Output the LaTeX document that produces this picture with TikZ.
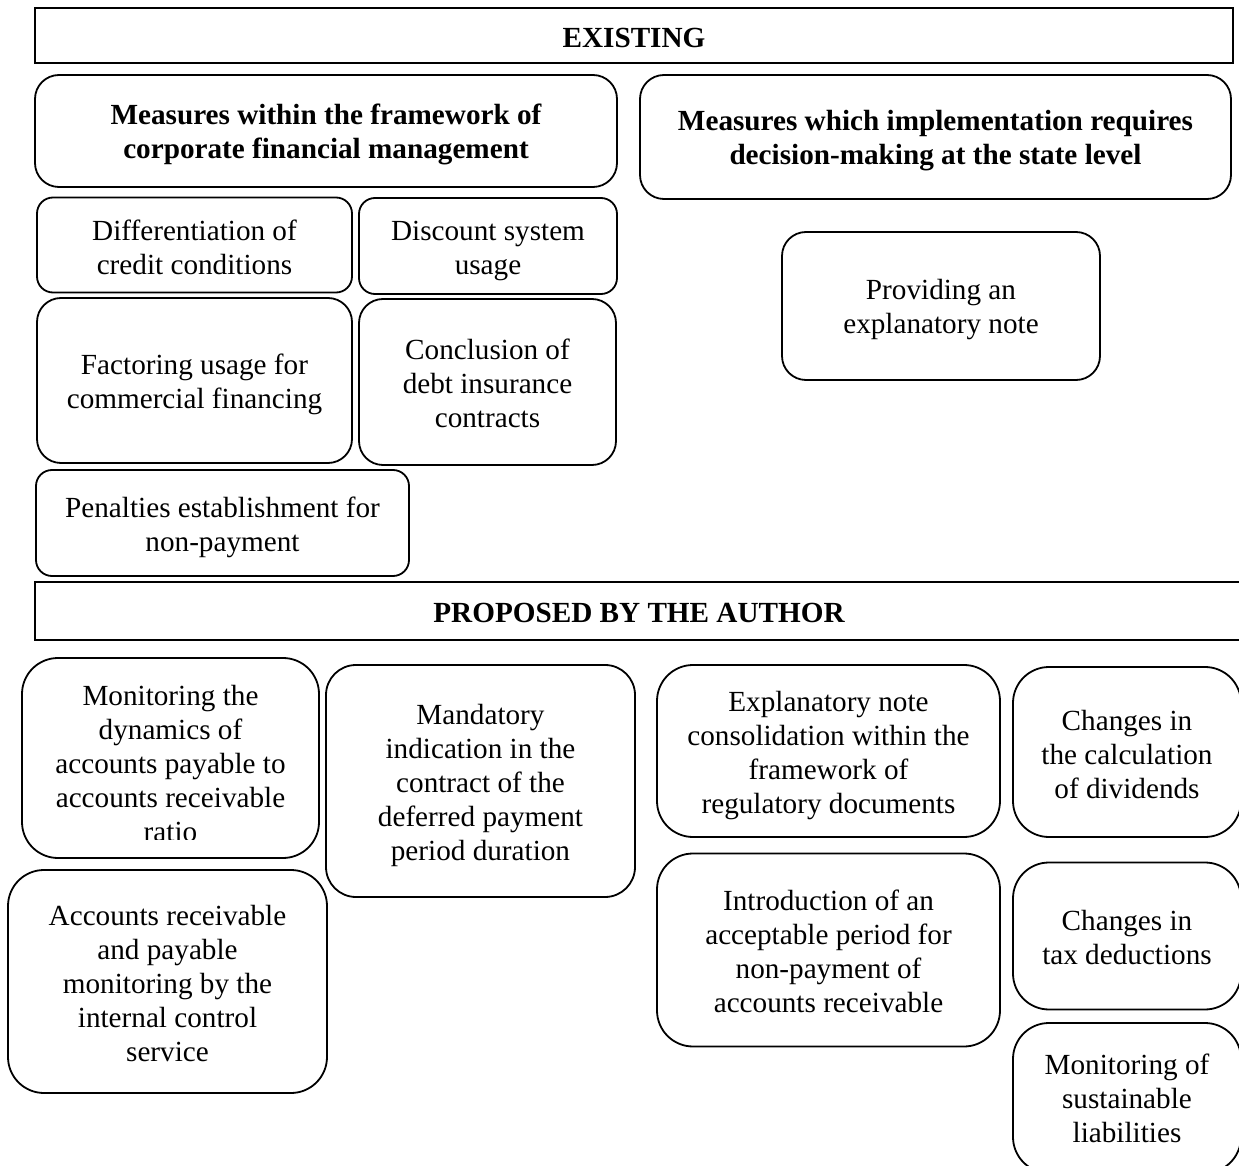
\documentclass[tikz,border=0pt]{standalone}
\usepackage{fontspec}
\setmainfont{Liberation Serif}
\begin{document}
\begin{tikzpicture}[x=0.5pt,y=-0.5pt,
  basebox/.style={draw=black, line width=0.9pt, inner sep=0pt},
  sqbox/.style={basebox},
  sbox/.style={basebox, rounded corners=8pt},
  mbox/.style={basebox, rounded corners=12pt},
  pbox/.style={basebox, rounded corners=18pt},
  txt/.style={inner sep=0pt, align=center, font=\fontsize{14.6}{17}\selectfont},
  btxt/.style={txt, font=\fontsize{14.6}{17}\selectfont\bfseries}]
\useasboundingbox (0,0) rectangle (1239,1166);
\clip (0,0) rectangle (1239,1166);

% EXISTING section
\node[sqbox, minimum width=599pt, minimum height=27.5pt] (exist) at (634,35.5) {};
\node[btxt] (exist-t) at (exist.center) [yshift=-1pt] {EXISTING};
\node[mbox, minimum width=291pt, minimum height=56pt] (mwf) at (326,131) {};
\node[btxt] (mwf-t) at (326,134)
  {Measures within the framework of\\corporate financial management};
\node[mbox, minimum width=295.5pt, minimum height=62pt] (mst) at (935.5,137) {};
\node[btxt] (mst-t) at (935.5,140.5)
  {Measures which implementation requires\\decision-making at the state level};
\node[sbox, minimum width=157.5pt, minimum height=47.5pt] (diff) at (194.5,245) {};
\node[txt] (diff-t) at (194.5,247)
  {Differentiation of\\credit conditions};
\node[sbox, minimum width=129pt, minimum height=48pt] (disc) at (488,246) {};
\node[txt] (disc-t) at (488,251)
  {Discount system\\usage};
\node[mbox, minimum width=157.5pt, minimum height=82.5pt] (fact) at (194.5,380.5) {};
\node[txt] (fact-t) at (194.5,384.5)
  {Factoring usage for\\commercial financing};
\node[mbox, minimum width=128.5pt, minimum height=83pt] (concl) at (487.5,382) {};
\node[txt] (concl-t) at (487.5,383)
  {Conclusion of\\debt insurance\\contracts};
\node[sbox, minimum width=186.5pt, minimum height=53pt] (pen) at (222.5,523) {};
\node[txt] (pen-t) at (222.5,527)
  {Penalties establishment for\\non-payment};
\node[mbox, minimum width=159pt, minimum height=74pt] (prov) at (941,306) {};
\node[txt] (prov-t) at (941,310)
  {Providing an\\explanatory note};

% PROPOSED section
\node[sqbox, minimum width=605pt, minimum height=29pt] (prop) at (640,611) {};
\node[btxt] (prop-t) at (639,613) {PROPOSED BY THE AUTHOR};
\node[pbox, minimum width=148.5pt, minimum height=100pt] (mon1) at (170.5,758) {};
\begin{scope}
  \clip (22,650) rectangle (319,839);
  \node[txt] (mon1-t) at (170.5,764)
    {Monitoring the\\dynamics of\\accounts payable to\\accounts receivable\\ratio};
\end{scope}
\node[pbox, rounded corners=15pt, minimum width=154.5pt, minimum height=116pt] (mand) at (480.5,781) {};
\node[txt] (mand-t) at (480.5,785)
  {Mandatory\\indication in the\\contract of the\\deferred payment\\period duration};
\node[pbox, minimum width=171.5pt, minimum height=86pt] (expl) at (828.5,751) {};
\node[txt] (expl-t) at (828.5,755.5)
  {Explanatory note\\consolidation within the\\framework of\\regulatory documents};
\node[pbox, minimum width=114pt, minimum height=85pt] (chdiv) at (1127,752) {};
\node[txt] (chdiv-t) at (1127,755)
  {Changes in\\the calculation\\of dividends};
\node[pbox, minimum width=159.5pt, minimum height=111.5pt] (acc) at (167.5,981.5) {};
\node[txt] (acc-t) at (167.5,983.5)
  {Accounts receivable\\and payable\\monitoring by the\\internal control\\service};
\node[pbox, minimum width=171.5pt, minimum height=96.5pt] (intro) at (828.5,950) {};
\node[txt] (intro-t) at (828.5,951.5)
  {Introduction of an\\acceptable period for\\non-payment of\\accounts receivable};
\node[pbox, minimum width=114pt, minimum height=73.5pt] (chtax) at (1127,936) {};
\node[txt] (chtax-t) at (1127,938)
  {Changes in\\tax deductions};
\node[pbox, minimum width=114pt, minimum height=75pt] (monsus) at (1127,1098) {};
\node[txt] (monsus-t) at (1127,1098)
  {Monitoring of\\sustainable\\liabilities};
\end{tikzpicture}
\end{document}
